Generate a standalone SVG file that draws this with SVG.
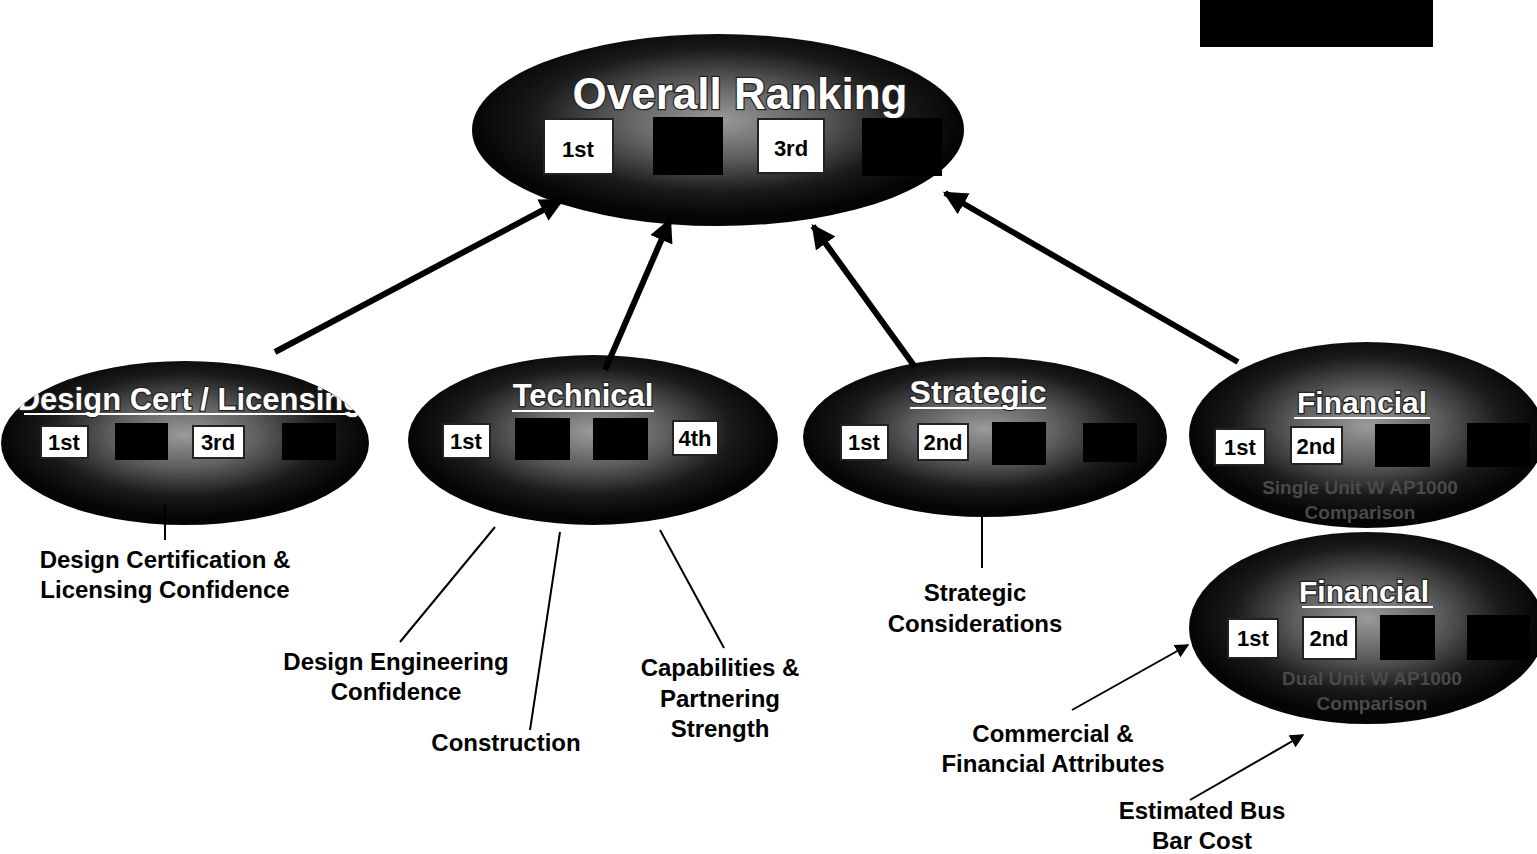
<svg xmlns="http://www.w3.org/2000/svg" width="1537" height="854" viewBox="0 0 1537 854">
<defs>
<radialGradient id="g" cx="50%" cy="45%" r="50%">
<stop offset="0" stop-color="#9a9a9a"/>
<stop offset="0.4" stop-color="#5e5e5e"/>
<stop offset="0.75" stop-color="#1a1a1a"/>
<stop offset="1" stop-color="#050505"/>
</radialGradient>
<clipPath id="dcClip"><ellipse cx="185" cy="443" rx="184" ry="82"/></clipPath>
<marker id="ah" viewBox="0 0 10 10" refX="9" refY="5" markerWidth="4" markerHeight="4" orient="auto" markerUnits="strokeWidth">
<path d="M0,0 L10,5 L0,10 z" fill="#000"/>
</marker>
<marker id="ahs" viewBox="0 0 10 10" refX="9" refY="5" markerWidth="7" markerHeight="7" orient="auto" markerUnits="strokeWidth">
<path d="M0,0 L10,5 L0,10 z" fill="#000"/>
</marker>
</defs>
<style>
.ell{fill:url(#g);}
.title{font-family:"Liberation Sans",Arial,Helvetica,sans-serif;font-weight:700;fill:#fff;stroke:#222;stroke-width:2.5;paint-order:stroke;text-anchor:middle;}
.wb{fill:#fff;stroke:#222;stroke-width:2;}
.bb{fill:#000;}
.bt{font-family:"Liberation Sans",Arial,Helvetica,sans-serif;font-weight:700;font-size:22px;fill:#000;text-anchor:middle;}
.sub{font-family:"Liberation Sans",Arial,Helvetica,sans-serif;font-weight:700;font-size:19px;fill:#4a4a4a;text-anchor:middle;}
.lbl{font-family:"Liberation Sans",Arial,Helvetica,sans-serif;font-weight:700;font-size:24px;fill:#000;text-anchor:middle;}
.arr{stroke:#000;stroke-width:6;fill:none;}
.thin{stroke:#000;stroke-width:2;fill:none;}
.ul{stroke:#fff;stroke-width:2;}
</style>
<rect width="1537" height="854" fill="#fff"/>
<rect x="1200" y="0" width="233" height="47" fill="#000"/>

<g id="overall">
<ellipse class="ell" cx="718" cy="130" rx="246" ry="96"/>
<text class="title" x="740" y="109" font-size="44">Overall Ranking</text>
<rect class="wb" x="544" y="119" width="69" height="55"/>
<text class="bt" x="578" y="157" font-size="28">1st</text>
<rect class="bb" x="653" y="117" width="70" height="58"/>
<rect class="wb" x="758" y="119" width="66" height="54"/>
<text class="bt" x="791" y="156" font-size="28">3rd</text>
<rect class="bb" x="862" y="118" width="80" height="58"/>
</g>

<g id="design-cert">
<ellipse class="ell" cx="185" cy="443" rx="184" ry="82"/>
<g clip-path="url(#dcClip)">
<text class="title" x="190" y="410" font-size="31">Design Cert / Licensing</text>
<line class="ul" x1="24" y1="414" x2="362" y2="414"/>
</g>
<rect class="wb" x="41" y="426" width="47" height="32"/>
<text class="bt" x="64" y="450">1st</text>
<rect class="bb" x="115" y="423" width="53" height="37"/>
<rect class="wb" x="193" y="426" width="51" height="32"/>
<text class="bt" x="218" y="450">3rd</text>
<rect class="bb" x="282" y="423" width="54" height="37"/>
</g>

<g id="technical">
<ellipse class="ell" cx="593" cy="440" rx="185" ry="85"/>
<text class="title" x="583" y="406" font-size="31">Technical</text>
<line class="ul" x1="512" y1="411" x2="654" y2="411"/>
<rect class="wb" x="443" y="424" width="47" height="34"/>
<text class="bt" x="466" y="449">1st</text>
<rect class="bb" x="515" y="418" width="55" height="42"/>
<rect class="bb" x="593" y="418" width="55" height="42"/>
<rect class="wb" x="673" y="421" width="45" height="34"/>
<text class="bt" x="695" y="446">4th</text>
</g>

<g id="strategic">
<ellipse class="ell" cx="985" cy="437" rx="182" ry="80"/>
<text class="title" x="978" y="403" font-size="32">Strategic</text>
<line class="ul" x1="910" y1="408" x2="1046" y2="408"/>
<rect class="wb" x="841" y="425" width="47" height="35"/>
<text class="bt" x="864" y="450">1st</text>
<rect class="wb" x="918" y="424" width="50" height="36"/>
<text class="bt" x="943" y="450">2nd</text>
<rect class="bb" x="992" y="422" width="54" height="43"/>
<rect class="bb" x="1083" y="423" width="54" height="39"/>
</g>

<g id="financial-1">
<ellipse class="ell" cx="1367" cy="435" rx="178" ry="93"/>
<text class="title" x="1362" y="413" font-size="30">Financial</text>
<line class="ul" x1="1294" y1="418" x2="1430" y2="418"/>
<rect class="wb" x="1215" y="429" width="50" height="36"/>
<text class="bt" x="1240" y="455">1st</text>
<rect class="wb" x="1291" y="427" width="51" height="37"/>
<text class="bt" x="1316" y="454">2nd</text>
<rect class="bb" x="1375" y="424" width="55" height="43"/>
<rect class="bb" x="1467" y="423" width="63" height="44"/>
<text class="sub" x="1360" y="494">Single Unit W AP1000</text>
<text class="sub" x="1360" y="519">Comparison</text>
</g>

<g id="financial-2">
<ellipse class="ell" cx="1367" cy="628" rx="178" ry="96"/>
<text class="title" x="1364" y="602" font-size="30">Financial</text>
<line class="ul" x1="1302" y1="607" x2="1433" y2="607"/>
<rect class="wb" x="1228" y="619" width="50" height="39"/>
<text class="bt" x="1253" y="646">1st</text>
<rect class="wb" x="1303" y="617" width="53" height="42"/>
<text class="bt" x="1329" y="646">2nd</text>
<rect class="bb" x="1380" y="615" width="55" height="45"/>
<rect class="bb" x="1467" y="615" width="63" height="45"/>
<text class="sub" x="1372" y="685">Dual Unit W AP1000</text>
<text class="sub" x="1372" y="710">Comparison</text>
</g>

<g id="connectors">
<line class="arr" x1="275" y1="352" x2="562" y2="200" marker-end="url(#ah)"/>
<line class="arr" x1="605" y1="370" x2="670" y2="220" marker-end="url(#ah)"/>
<line class="arr" x1="915" y1="367" x2="813" y2="226" marker-end="url(#ah)"/>
<line class="arr" x1="1238" y1="362" x2="945" y2="193" marker-end="url(#ah)"/>
<line class="thin" x1="165" y1="505" x2="165" y2="540"/>
<line class="thin" x1="400" y1="642" x2="495" y2="527"/>
<line class="thin" x1="530" y1="730" x2="560" y2="532"/>
<line class="thin" x1="724" y1="648" x2="660" y2="530"/>
<line class="thin" x1="982" y1="512" x2="982" y2="568"/>
<line class="thin" x1="1072" y1="710" x2="1188" y2="645" stroke-width="2.5" marker-end="url(#ahs)"/>
<line class="thin" x1="1190" y1="800" x2="1303" y2="735" stroke-width="2.5" marker-end="url(#ahs)"/>
</g>

<g id="labels">
<text class="lbl" x="165" y="568">Design Certification &amp;</text>
<text class="lbl" x="165" y="598">Licensing Confidence</text>
<text class="lbl" x="396" y="670">Design Engineering</text>
<text class="lbl" x="396" y="700">Confidence</text>
<text class="lbl" x="506" y="751">Construction</text>
<text class="lbl" x="720" y="676">Capabilities &amp;</text>
<text class="lbl" x="720" y="707">Partnering</text>
<text class="lbl" x="720" y="737">Strength</text>
<text class="lbl" x="975" y="601">Strategic</text>
<text class="lbl" x="975" y="632">Considerations</text>
<text class="lbl" x="1053" y="742">Commercial &amp;</text>
<text class="lbl" x="1053" y="772">Financial Attributes</text>
<text class="lbl" x="1202" y="819">Estimated Bus</text>
<text class="lbl" x="1202" y="849">Bar Cost</text>
</g>
</svg>
